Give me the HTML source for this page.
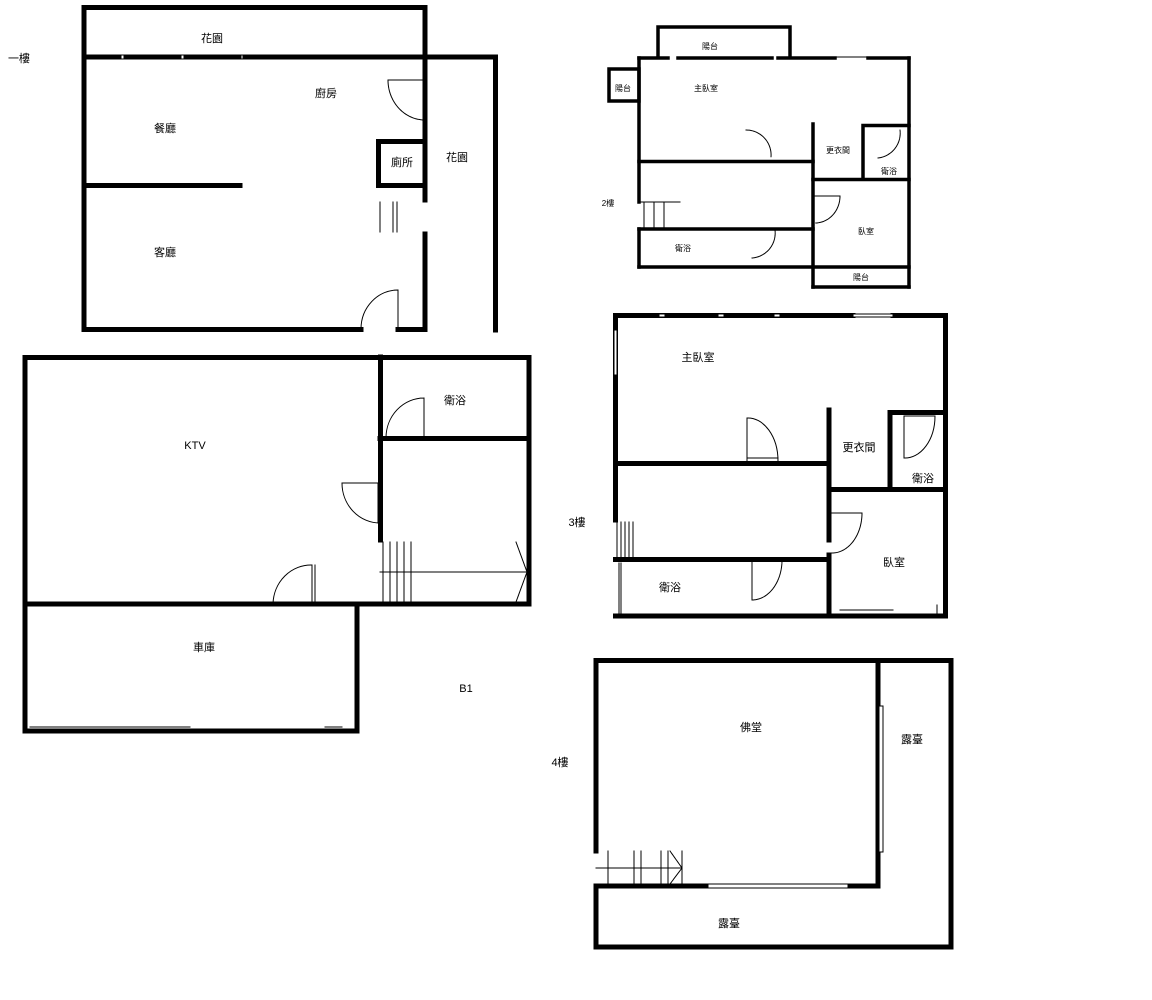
<!DOCTYPE html>
<html><head><meta charset="utf-8"><style>
html,body{margin:0;padding:0;background:#fff;width:1152px;height:1000px;overflow:hidden}
svg{display:block}
text{font-family:"Liberation Sans","Noto Sans CJK TC",sans-serif;fill:#000}
</style></head><body>
<svg width="1152" height="1000" viewBox="0 0 1152 1000" xmlns="http://www.w3.org/2000/svg">
<g stroke="#000" fill="none" stroke-linecap="square">
<!-- 1F -->
<g stroke-width="5">
<line x1="84" y1="7.5" x2="425" y2="7.5"/>
<line x1="84" y1="7.5" x2="84" y2="329.5"/>
<line x1="84" y1="329.5" x2="361" y2="329.5"/>
<line x1="398" y1="329.5" x2="425" y2="329.5"/>
<line x1="425" y1="7.5" x2="425" y2="200"/>
<line x1="425" y1="234" x2="425" y2="329.5"/>
<line x1="84" y1="57" x2="119" y2="57"/>
<line x1="245" y1="57" x2="495.5" y2="57"/>
<line x1="495.5" y1="57" x2="495.5" y2="330"/>
<line x1="84" y1="185.5" x2="240" y2="185.5"/>
<rect x="378.5" y="141.5" width="46.5" height="44"/>
</g>
<g stroke-width="1">
<rect x="119" y="55" width="126" height="4"/>
<line x1="125" y1="57" x2="180" y2="57" stroke-width="3"/><line x1="185" y1="57" x2="240" y2="57" stroke-width="3"/>
<line x1="427" y1="80" x2="427" y2="120"/>
<path d="M388 80 L425 80 M388 80 A37 40 0 0 0 425 120" stroke-dasharray="2,1"/>
<path d="M398 329 L398 290 A37 39 0 0 0 361 329"/>
<line x1="380" y1="202" x2="380" y2="232"/><line x1="393" y1="202" x2="393" y2="232"/><line x1="397" y1="202" x2="397" y2="232"/>
</g>
<!-- 2F -->
<g stroke-width="3.5">
<polyline points="658,57 658,27 790,27 790,57"/>
<line x1="639" y1="58" x2="668" y2="58"/><line x1="678" y1="58" x2="772" y2="58"/><line x1="778" y1="58" x2="835" y2="58"/><line x1="868" y1="58" x2="909" y2="58"/>
<line x1="639" y1="58" x2="639" y2="202"/><line x1="639" y1="229" x2="639" y2="267"/>
<line x1="909" y1="58" x2="909" y2="287"/>
<rect x="609" y="69" width="30" height="32"/>
<line x1="639" y1="161.5" x2="813" y2="161.5"/>
<line x1="813" y1="124" x2="813" y2="287"/>
<polyline points="863,179 863,125.5 909,125.5"/>
<line x1="813" y1="179.5" x2="909" y2="179.5"/>
<line x1="639" y1="229" x2="813" y2="229"/>
<line x1="639" y1="267" x2="909" y2="267"/>
<line x1="813" y1="287" x2="909" y2="287"/>
</g>
<g stroke-width="1">
<line x1="835" y1="57" x2="868" y2="57"/>
<line x1="639" y1="202" x2="680" y2="202"/>
<line x1="644" y1="202" x2="644" y2="228"/><line x1="654" y1="202" x2="654" y2="228"/><line x1="664" y1="202" x2="664" y2="228"/>
<path d="M746 130 A25 25 0 0 1 771 157" stroke-dasharray="2,1"/>
<path d="M900 130 A25 25 0 0 1 878 158" stroke-dasharray="2,1"/>
<path d="M815 196 L840 196 A25 27 0 0 1 815 223" stroke-dasharray="2,1"/>
<path d="M775 230 A25 25 0 0 1 752 258" stroke-dasharray="2,1"/>
</g>
<!-- B1 -->
<g stroke-width="5">
<rect x="25" y="357.5" width="504" height="246.5"/>
<line x1="380.5" y1="357" x2="380.5" y2="540"/>
<line x1="380" y1="438.5" x2="420" y2="438.5"/><line x1="424" y1="438.5" x2="529" y2="438.5"/>
<polyline points="25,604 25,731 357,731 357,604"/>
</g>
<g stroke-width="1">
<path d="M424 398 L424 438 M424 398 A38 40 0 0 0 386 438"/>
<path d="M342 483 L380 483 M342 483 A38 40 0 0 0 380 523"/>
<line x1="378" y1="483" x2="378" y2="523"/>
<path d="M312 565 L312 604 M312 565 A38 40 0 0 0 273 604"/>
<line x1="315" y1="565" x2="315" y2="604"/>
<line x1="380" y1="572" x2="527" y2="572"/>
<line x1="383" y1="542" x2="383" y2="604"/><line x1="390" y1="542" x2="390" y2="604"/><line x1="397" y1="542" x2="397" y2="604"/><line x1="404" y1="542" x2="404" y2="604"/><line x1="411" y1="542" x2="411" y2="604"/>
<path d="M516 542 L527 572 L516 602" stroke-dasharray="2,1"/>
<line x1="30" y1="727" x2="190" y2="727"/><line x1="325" y1="727" x2="342" y2="727"/>
</g>
<!-- 3F -->
<g stroke-width="5">
<line x1="615.5" y1="315.5" x2="853" y2="315.5"/><line x1="893" y1="315.5" x2="945.5" y2="315.5"/>
<line x1="615.5" y1="315.5" x2="615.5" y2="520"/>
<line x1="945.5" y1="315.5" x2="945.5" y2="616"/>
<line x1="615.5" y1="616" x2="945.5" y2="616"/>
<line x1="615.5" y1="463.5" x2="829" y2="463.5"/>
<line x1="829" y1="410" x2="829" y2="540"/><line x1="829" y1="555" x2="829" y2="616"/>
<polyline points="890,488 890,412.5 945,412.5"/>
<line x1="829" y1="489.5" x2="945" y2="489.5"/>
<line x1="615.5" y1="559.5" x2="829" y2="559.5"/>
</g>
<g stroke-width="1">
<rect x="659" y="314" width="6" height="3" fill="#fff"/><rect x="718" y="314" width="6" height="3" fill="#fff"/><rect x="774" y="314" width="6" height="3" fill="#fff"/>
<rect x="853" y="314" width="40" height="3" fill="#fff"/>
<rect x="614" y="330" width="3" height="45" fill="#fff"/>
<path d="M747 461 L747 418 A30 43 0 0 1 778 461 M747 458 L778 458"/>
<path d="M904 416 L935 416 A30 42 0 0 1 904 458 Z"/>
<path d="M831 513 L862 513 A30 40 0 0 1 831 553" stroke-dasharray="2,1"/>
<path d="M752 561 L752 600 M752 561 L782 561 A30 40 0 0 1 752 600" stroke-dasharray="2,1"/>
<line x1="617" y1="522" x2="617" y2="557"/><line x1="621" y1="522" x2="621" y2="557"/><line x1="625" y1="522" x2="625" y2="557"/><line x1="629" y1="522" x2="629" y2="557"/><line x1="633" y1="522" x2="633" y2="557"/>
<line x1="619" y1="563" x2="619" y2="613"/><line x1="621" y1="563" x2="621" y2="613"/>
<line x1="840" y1="610" x2="893" y2="610"/><line x1="937" y1="605" x2="937" y2="613"/>
</g>
<!-- 4F -->
<g stroke-width="5">
<line x1="596" y1="660.5" x2="951" y2="660.5"/>
<line x1="596" y1="660.5" x2="596" y2="851"/><line x1="596" y1="886" x2="596" y2="947"/>
<line x1="951" y1="660.5" x2="951" y2="947"/>
<line x1="596" y1="947" x2="951" y2="947"/>
<line x1="878" y1="660.5" x2="878" y2="886"/>
<line x1="596" y1="886" x2="878" y2="886"/>
</g>
<g stroke-width="1">
<rect x="879" y="706" width="4" height="146" fill="#fff"/>
<line x1="596" y1="868" x2="682" y2="868"/>
<line x1="608" y1="851" x2="608" y2="884"/><line x1="634" y1="851" x2="634" y2="884"/><line x1="641" y1="851" x2="641" y2="884"/><line x1="661" y1="851" x2="661" y2="884"/><line x1="668" y1="851" x2="668" y2="884"/><line x1="682" y1="851" x2="682" y2="884"/>
<path d="M670 851 L682 868 L670 884" stroke-dasharray="2,1"/>
<rect x="708" y="884" width="140" height="4" fill="#fff"/>
</g>
</g>
<g font-size="11" text-anchor="middle">
<text x="19" y="62">一樓</text>
<text x="212" y="42">花園</text>
<text x="326" y="97">廚房</text>
<text x="165" y="132">餐廳</text>
<text x="402" y="166">廁所</text>
<text x="457" y="161">花園</text>
<text x="165" y="256">客廳</text>
<text x="710" y="49" font-size="8">陽台</text>
<text x="623" y="91" font-size="8">陽台</text>
<text x="706" y="91" font-size="8">主臥室</text>
<text x="838" y="153" font-size="8">更衣間</text>
<text x="889" y="174" font-size="8">衛浴</text>
<text x="608" y="206" font-size="8">2樓</text>
<text x="866" y="234" font-size="8">臥室</text>
<text x="683" y="251" font-size="8">衛浴</text>
<text x="861" y="280" font-size="8">陽台</text>
<text x="455" y="404">衛浴</text>
<text x="195" y="449">KTV</text>
<text x="204" y="651">車庫</text>
<text x="466" y="692">B1</text>
<text x="698" y="361">主臥室</text>
<text x="859" y="451">更衣間</text>
<text x="923" y="482">衛浴</text>
<text x="577" y="526">3樓</text>
<text x="894" y="566">臥室</text>
<text x="670" y="591">衛浴</text>
<text x="751" y="731">佛堂</text>
<text x="912" y="743">露臺</text>
<text x="560" y="766">4樓</text>
<text x="729" y="927">露臺</text>
</g>
</svg>
</body></html>
